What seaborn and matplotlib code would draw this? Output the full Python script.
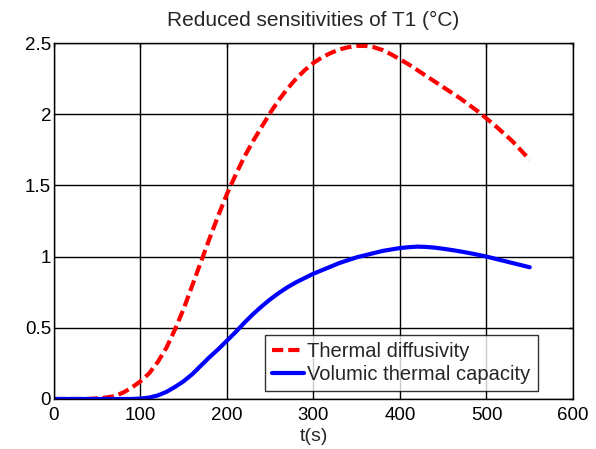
import numpy as np
import pandas as pd
import matplotlib
matplotlib.use("Agg")
import matplotlib.pyplot as plt
import seaborn as sns

# time (s) and reduced sensitivities
t = list(range(0, 551, 10))
diffusivity = [0, 0, 0, 0, 0, 0.005, 0.01, 0.02, 0.045, 0.08,
               0.125, 0.18, 0.26, 0.36, 0.49, 0.635, 0.80, 0.965, 1.13, 1.29,
               1.44, 1.575, 1.70, 1.81, 1.91, 2.01, 2.10, 2.18, 2.25, 2.31,
               2.36, 2.40, 2.43, 2.455, 2.47, 2.48, 2.48, 2.47, 2.45, 2.42,
               2.385, 2.35, 2.31, 2.27, 2.23, 2.19, 2.15, 2.11, 2.065, 2.02,
               1.97, 1.92, 1.865, 1.81, 1.745, 1.68]
capacity = [0, 0, 0, 0, 0, 0, 0, 0, 0, 0,
            0.003, 0.01, 0.025, 0.05, 0.085, 0.125, 0.175, 0.235, 0.295, 0.35,
            0.41, 0.47, 0.535, 0.595, 0.65, 0.70, 0.745, 0.785, 0.82, 0.85,
            0.88, 0.905, 0.93, 0.955, 0.975, 0.995, 1.01, 1.025, 1.04, 1.05,
            1.06, 1.066, 1.07, 1.068, 1.063, 1.055, 1.046, 1.036, 1.025, 1.013,
            1.0, 0.985, 0.97, 0.955, 0.94, 0.925]

df = pd.DataFrame({"t": t, "diff": diffusivity, "cap": capacity})

sns.set_style("white")
plt.rcParams["font.family"] = ["Liberation Sans", "DejaVu Sans"]

fig = plt.figure(figsize=(5.96, 4.49), dpi=100)
ax = fig.add_axes([0.0906, 0.1114, 0.8708, 0.7928])

sns.lineplot(data=df, x="t", y="diff", ax=ax, color="#ff0000", lw=3.0,
             label="Thermal diffusivity")
sns.lineplot(data=df, x="t", y="cap", ax=ax, color="#0000ff", lw=3.0,
             label="Volumic thermal capacity")
ax.lines[0].set_dashes((2.7, 1.2))

ax.set_xlim(0, 600)
ax.set_ylim(0, 2.5)
ax.set_xticks(np.arange(0, 601, 100))
ax.set_yticks([0, 0.5, 1, 1.5, 2, 2.5])
ax.set_yticklabels(["0", "0.5", "1", "1.5", "2", "2.5"])
ax.grid(True, color="black", lw=1.0)
ax.set_axisbelow(True)
for sp in ax.spines.values():
    sp.set_color("black")
    sp.set_linewidth(1.0)
ax.tick_params(direction="in", length=3, width=1, top=True, right=True,
               labelsize=13.5, colors="black")
ax.tick_params(axis="x", pad=6)
ax.tick_params(axis="y", pad=2)

ax.set_xlabel("t(s)", fontsize=14, labelpad=3)
ax.set_ylabel("")
ax.set_title("Reduced sensitivities of T1 (°C)", fontsize=15, pad=12)

leg = ax.legend(loc="lower left", bbox_to_anchor=(0.4066, 0.0225),
                fontsize=14.5, frameon=True, fancybox=False, handlelength=1.6,
                handletextpad=0.15, borderpad=0.35, labelspacing=0.2,
                borderaxespad=0)
leg.get_frame().set_edgecolor("black")
leg.get_frame().set_linewidth(1.0)
leg.legend_handles[0].set_dashes((2.7, 1.2))

fig.savefig("out.png", dpi=100)
